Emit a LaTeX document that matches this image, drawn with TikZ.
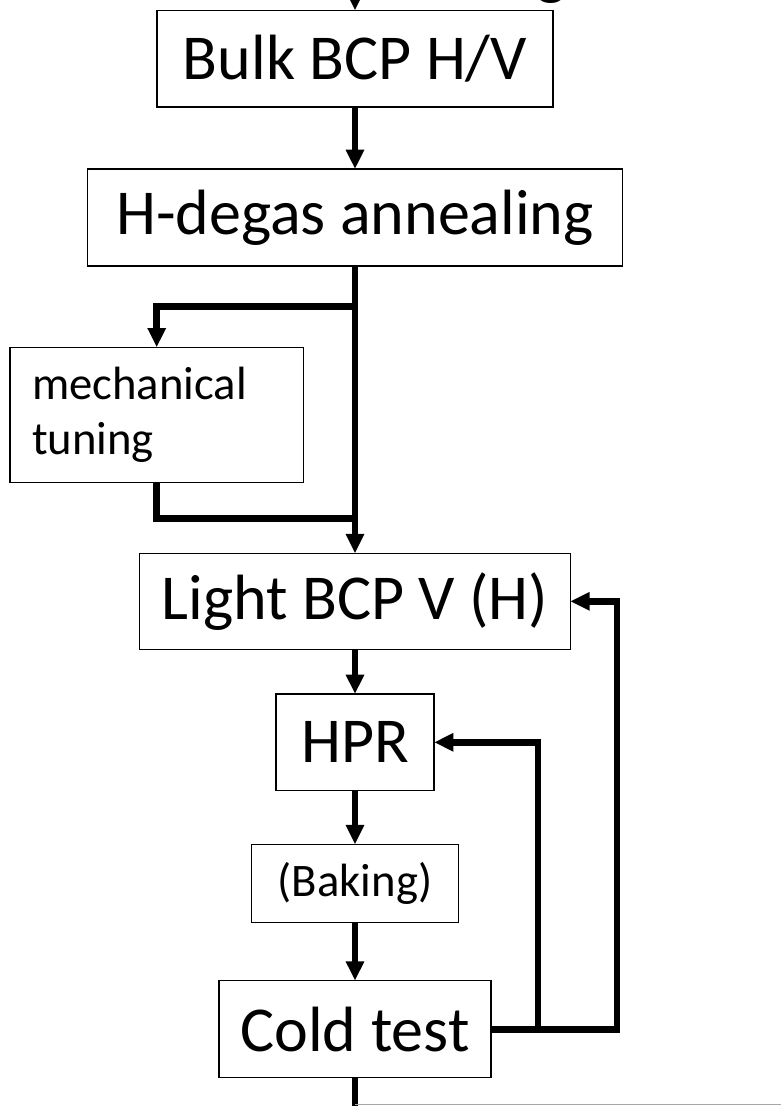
\documentclass[tikz,border=0pt]{standalone}
\usepackage{fontspec}
\setmainfont{Carlito}
\usetikzlibrary{arrows.meta}
\begin{document}
\begin{tikzpicture}[x=0.75pt,y=-0.75pt,
  box/.style={draw, line width=1pt, inner sep=0pt, outer sep=0pt, font=\fontsize{48}{58}\selectfont},
  smallbox/.style={box, font=\fontsize{35}{41.25}\selectfont},
  conn/.style={line width=5pt, -{Triangle[width=13pt,length=14.5pt]}},
  plain/.style={line width=5pt},
  greyline/.style={draw=gray!70, line width=1pt}
]
\useasboundingbox (0,0) rectangle (781,1106);
\clip (0,0) rectangle (781,1106);
\fill[white] (0,0) rectangle (781,1106);

\node[box, minimum width=297pt, minimum height=72.5pt] (bulk) at (355,58.7) {Bulk BCP H/V};
\node[box, minimum width=401.7pt, minimum height=72.75pt] (degas) at (355,217.5) {H-degas annealing};
\node[smallbox, minimum height=101.5pt, text width=187pt, inner xsep=16.5pt, align=left] (mech) at (156.7,415) {mechanical\\tuning};
\node[box, minimum width=323pt, minimum height=72pt] (light) at (355,601.3) {Light BCP V (H)};
\node[box, minimum width=118.7pt, minimum height=72.5pt] (hpr) at (355,742.3) {HPR};
\node[smallbox, minimum width=155.6pt, minimum height=58.5pt] (bake) at (355,883.3) {(Baking)};
\node[box, minimum width=204pt, minimum height=72.75pt] (cold) at (355,1029.2) {Cold test};

\node[font=\fontsize{48}{58}\selectfont, anchor=base, inner sep=0pt] (gfrag) at (552,-7) {g};

\coordinate (topin) at (355,-30);
\coordinate (j1) at (355,306.7);
\coordinate (j2) at (355,518.3);
\coordinate (fb1) at (538,1029.2);
\coordinate (fb2) at (617,1029.2);
\coordinate (botout) at (355,1130);
\coordinate (g1) at (355,1104.5);
\coordinate (g2) at (790,1104.5);

\draw[conn] (topin) -- (bulk.north);
\draw[conn] (bulk) -- (degas);
\draw[conn] (degas) -- (light);
\draw[conn] (j1) -| (mech.north);
\draw[plain] (mech.south) |- (j2);
\draw[conn] (light) -- (hpr);
\draw[conn] (hpr) -- (bake);
\draw[conn] (bake) -- (cold);
\draw[conn] (cold.east) -- (fb2) |- (light.east);
\draw[conn] (fb1) |- (hpr.east);
\draw[plain] (cold.south) -- (botout);
\draw[greyline] (g1) -- (g2);
\end{tikzpicture}
\end{document}
